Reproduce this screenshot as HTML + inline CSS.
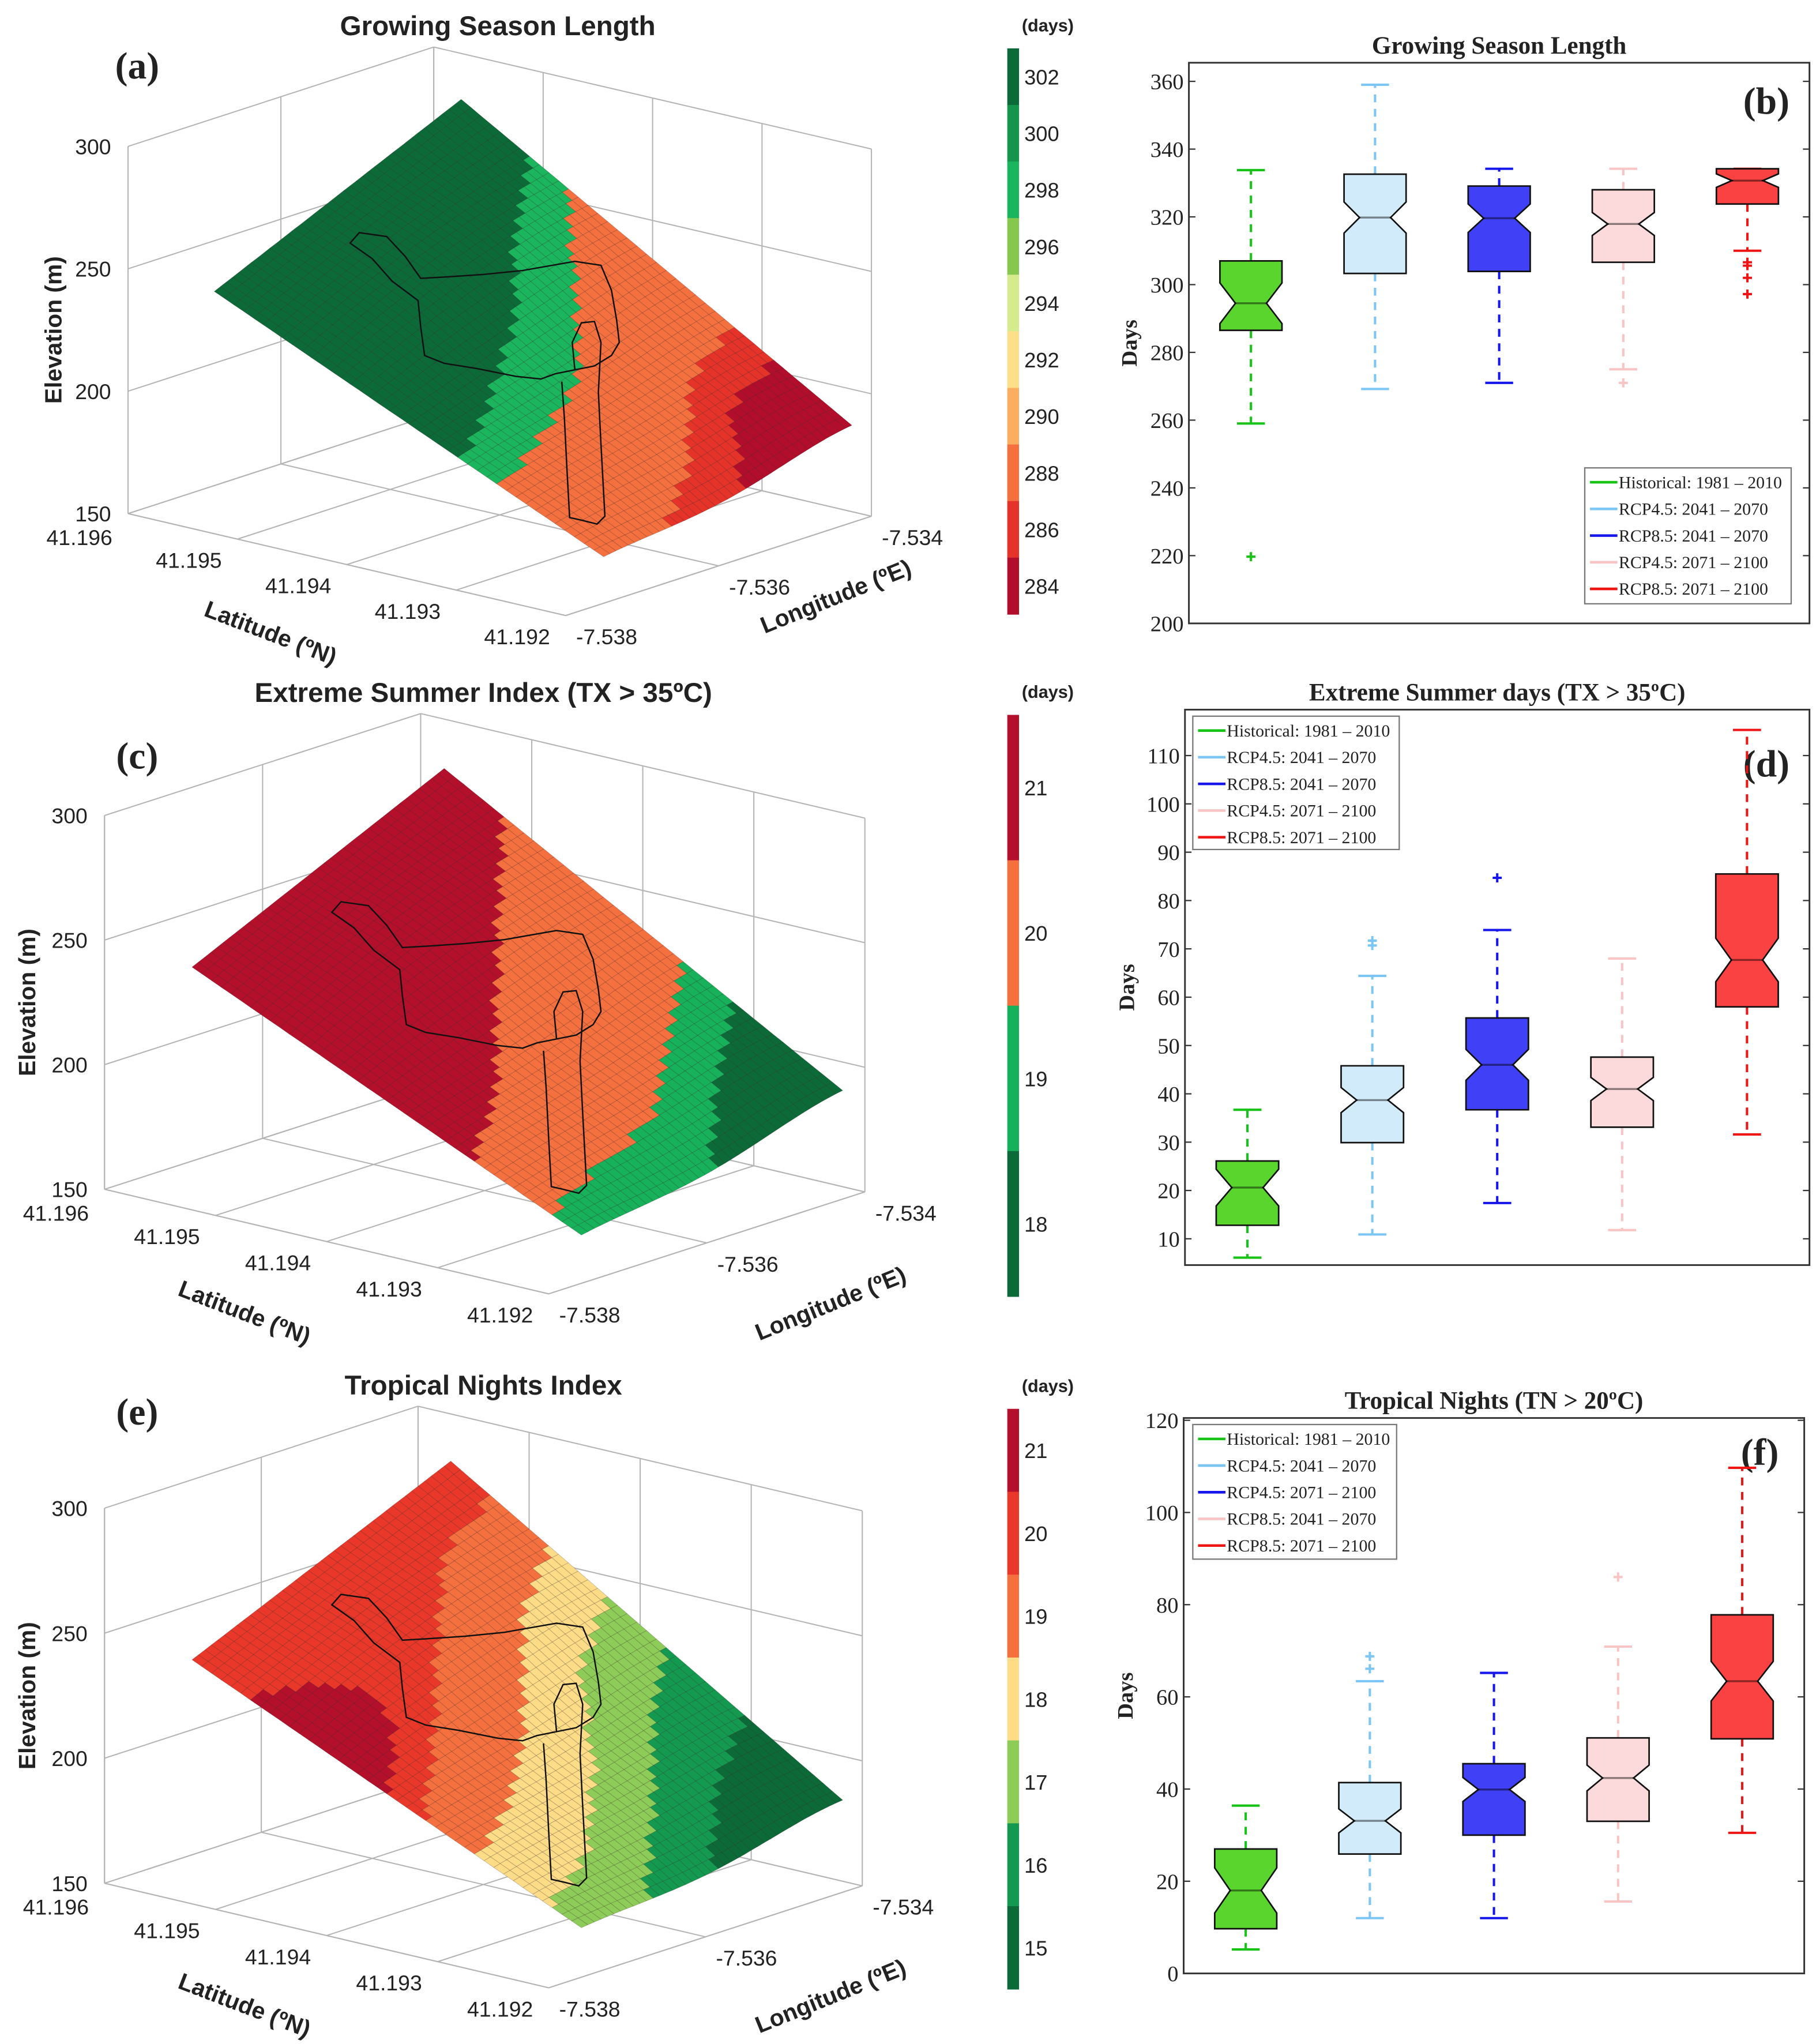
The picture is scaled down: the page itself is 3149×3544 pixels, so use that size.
<!DOCTYPE html>
<html><head><meta charset="utf-8"><style>
html,body{margin:0;padding:0;background:#fff;}
svg{display:block;}
</style></head><body>
<svg id="fig" xmlns="http://www.w3.org/2000/svg" width="3149" height="3544" viewBox="0 0 1390 1564" preserveAspectRatio="none">
<rect x="0" y="0" width="1390" height="1564" fill="#fff"/>
</svg>
<script>
// ---------- Box-plot data ----------
const legendB = ["Historical: 1981 – 2010","RCP4.5: 2041 – 2070","RCP8.5: 2041 – 2070","RCP4.5: 2071 – 2100","RCP8.5: 2071 – 2100"];
const hiB = [333.8,359,334.2,334.2,334.2];
const q3B = [307,332.6,329.1,328,334.2];
const medB = [294.5,319.8,319.6,317.9,330.7];
const q1B = [286.5,303.3,303.9,306.6,323.8];
const loB = [259,269.2,271,275,310];
const notchB = [6,4.6,4.2,3.4,2];
const outB = [[219.7],[],[],[271],[306.6,305.6,302,297.2]];
const ticksB = [200,220,240,260,280,300,320,340,360];

const legendD = ["Historical: 1981 – 2010","RCP4.5: 2041 – 2070","RCP8.5: 2041 – 2070","RCP4.5: 2071 – 2100","RCP8.5: 2071 – 2100"];
const hiD = [36.7,64.4,73.9,68,115.3];
const q3D = [26.1,45.8,55.7,47.6,85.5];
const medD = [20.6,38.7,46,41,67.7];
const q1D = [12.8,29.9,36.7,33.1,58];
const loD = [6.1,10.9,17.4,11.8,31.6];
const notchD = [3.8,2.6,3.2,2.4,4.5];
const outD = [[],[71.7,70.7],[84.7],[],[]];
const ticksD = [10,20,30,40,50,60,70,80,90,100,110];

const legendF = ["Historical: 1981 – 2010","RCP4.5: 2041 – 2070","RCP4.5: 2071 – 2100","RCP8.5: 2041 – 2070","RCP8.5: 2071 – 2100"];
const hiF = [36.4,63.4,65.2,70.9,109.7];
const q3F = [27,41.4,45.5,51.1,77.8];
const medF = [18,33.1,39.9,42.4,63.4];
const q1F = [9.7,25.9,30,33,50.9];
const loF = [5.2,12,12,15.6,30.5];
const notchF = [4.9,2.6,2.6,2.8,4.3];
const outF = [[],[68.8,66.1],[],[86],[]];
const ticksF = [0,20,40,60,80,100,120];

// ---------- Surface (3D) data: class thresholds along a, sampled at b = 0,.25,.5,.75,1 ----------
const cbLabelsA = [302,300,298,296,294,292,290,288,286,284];
const surfClassesA = [302,298,288,286,284];
const edgesA = [[0.64,0.55,0.45,0.3,0.17],[0.74,0.68,0.62,0.45,0.27],[1.1,1.0,0.9,0.75,0.7],[1.2,1.2,1.05,0.85,0.8]];
const cbLabelsC = [21,20,19,18];
const surfClassesC = [21,20,19,18];
const edgesC = [[0.72,0.62,0.45,0.3,0.15],[0.92,0.88,0.85,0.72,0.6],[1.2,1.15,1.0,0.85,0.72]];
const cbLabelsE = [21,20,19,18,17,16,15];
const surfClassesE = [20,19,18,17,16,15];
const edgesE = [[0.6,0.45,0.3,0.15,0.1],[0.74,0.65,0.52,0.35,0.25],[0.92,0.85,0.7,0.5,0.4],[1.05,1.0,0.85,0.68,0.55],[1.3,1.2,1.0,0.85,0.75]];
const patchE21 = [0.14,0.5,0.22];
const latTicks = ["41.196","41.195","41.194","41.193","41.192"];
const lonTicks = ["-7.538","-7.536","-7.534"];
const elevTicks = [150,200,250,300];

const NS='http://www.w3.org/2000/svg';
const svg=document.getElementById('fig');
function mk(tag,attrs,parent){const e=document.createElementNS(NS,tag);for(const k in attrs)e.setAttribute(k,attrs[k]);(parent||svg).appendChild(e);return e;}
function txt(str,x,y,size,anchor,weight,family,parent,rot){const t=mk('text',{x:x,y:y,'font-size':size,'text-anchor':anchor||'middle','font-weight':weight||'normal','font-family':family,fill:'#222'},parent);if(rot!==undefined)t.setAttribute('transform','rotate('+rot+' '+x+' '+y+')');t.textContent=str;return t;}
const SERIF='"Liberation Serif", serif';
const SANS='"Liberation Sans", sans-serif';

const boxFill=['#5ad52e','#d2ebfb','#4040f6','#fcdadb','#fb4242'];
const whiskCol=['#17c317','#7cc6f6','#1515ec','#f8c4c4','#f01515'];

function boxPanel(cfg){
  const g=mk('g',{});
  
  
  const {x0,x1,y0,y1,vmin,vmax}=cfg;
  const Y=v=>y1-(v-vmin)/(vmax-vmin)*(y1-y0);
  const unit=(x1-x0)/5;
  const X=i=>x0+(i+0.5)*unit;
  const frame=mk('rect',{x:x0,y:y0,width:x1-x0,height:y1-y0,fill:'none',stroke:'#333','stroke-width':1.3},g);
  
  
  cfg.ticks.forEach(t=>{
    const y=Y(t);
    mk('line',{x1:x0,y1:y,x2:x0+5,y2:y,stroke:'#333','stroke-width':1},g);
    mk('line',{x1:x1,y1:y,x2:x1-5,y2:y,stroke:'#333','stroke-width':1},g);
    const lb=txt(String(t),x0-4,y+6,17,'end','normal',SERIF,g);
    
    
  });
  const yl=txt('Days',cfg.yLabelX,(y0+y1)/2,17,'middle','bold',SERIF,g,-90);
  
  
  const tt=txt(cfg.title,(x0+x1)/2,y0-7,19,'middle','bold',SERIF,g);
  
  
  const pl=txt(cfg.letter,cfg.letterX,cfg.letterY,29,'middle','bold',SERIF,g);
  
  
  const hw=unit*0.25;
  for(let i=0;i<5;i++){
    const cx=X(i);
    const bg=mk('g',{},g);
    
    
    const c=whiskCol[i];
    const dash='6,5';
    mk('line',{x1:cx,y1:Y(cfg.q3[i]),x2:cx,y2:Y(cfg.hi[i]),stroke:c,'stroke-width':1.8,'stroke-dasharray':dash},bg);
    mk('line',{x1:cx,y1:Y(cfg.q1[i]),x2:cx,y2:Y(cfg.lo[i]),stroke:c,'stroke-width':1.8,'stroke-dasharray':dash},bg);
    const cw=hw*0.45;
    mk('line',{x1:cx-cw,y1:Y(cfg.hi[i]),x2:cx+cw,y2:Y(cfg.hi[i]),stroke:c,'stroke-width':1.8},bg);
    mk('line',{x1:cx-cw,y1:Y(cfg.lo[i]),x2:cx+cw,y2:Y(cfg.lo[i]),stroke:c,'stroke-width':1.8},bg);
    const m=cfg.med[i];
    const nh=Math.min(m+cfg.notch[i],cfg.q3[i]), nl=Math.max(m-cfg.notch[i],cfg.q1[i]);
    const inner=hw*0.5;
    const pts=[[cx-hw,Y(cfg.q3[i])],[cx+hw,Y(cfg.q3[i])],[cx+hw,Y(nh)],[cx+inner,Y(m)],[cx+hw,Y(nl)],[cx+hw,Y(cfg.q1[i])],[cx-hw,Y(cfg.q1[i])],[cx-hw,Y(nl)],[cx-inner,Y(m)],[cx-hw,Y(nh)]];
    mk('polygon',{points:pts.map(p=>p.join(',')).join(' '),fill:boxFill[i],stroke:'#111','stroke-width':1.2},bg);
    mk('line',{x1:cx-inner,y1:Y(m),x2:cx+inner,y2:Y(m),stroke:'rgba(0,0,0,0.45)','stroke-width':1.5},bg);
    cfg.out[i].forEach(v=>{
      const oy=Y(v);
      mk('path',{d:'M'+(cx-3.5)+','+oy+'h7M'+cx+','+(oy-3.5)+'v7',stroke:c,'stroke-width':1.8},bg);
    });
  }
  const L=cfg.legend;
  const lg=mk('g',{},g);
  
  
  mk('rect',{x:L.x,y:L.y,width:L.w,height:L.h,fill:'#fff',stroke:'#777','stroke-width':1},lg);
  cfg.labels.forEach((s,i)=>{
    const yy=L.y+11+i*20.4;
    const le=mk('g',{},lg);
    
    
    mk('line',{x1:L.x+4,y1:yy,x2:L.x+25,y2:yy,stroke:whiskCol[i],'stroke-width':2},le);
    txt(s,L.x+26,yy+4.5,13.2,'start','normal',SERIF,le);
  });
}

boxPanel({name:'boxplot-growing-season',x0:910,x1:1385,y0:48,y1:477,vmin:200,vmax:365.5,ticks:ticksB,hi:hiB,q3:q3B,med:medB,q1:q1B,lo:loB,notch:notchB,out:outB,labels:legendB,title:'Growing Season Length',letter:'(b)',letterX:1352,letterY:87,yLabelX:870,legend:{x:1213,y:358,w:158,h:104}});
boxPanel({name:'boxplot-extreme-summer',x0:907,x1:1385,y0:543,y1:968,vmin:4.56,vmax:119.5,ticks:ticksD,hi:hiD,q3:q3D,med:medD,q1:q1D,lo:loD,notch:notchD,out:outD,labels:legendD,title:'Extreme Summer days (TX > 35ºC)',letter:'(d)',letterX:1352,letterY:594,yLabelX:868,legend:{x:913,y:548,w:158,h:102}});
boxPanel({name:'boxplot-tropical-nights',x0:906,x1:1381,y0:1085,y1:1510,vmin:0,vmax:120.5,ticks:ticksF,hi:hiF,q3:q3F,med:medF,q1:q1F,lo:loF,notch:notchF,out:outF,labels:legendF,title:'Tropical Nights (TN > 20ºC)',letter:'(f)',letterX:1347,letterY:1121,yLabelX:867,legend:{x:913,y:1090,w:156,h:103}});

// ---------- 3D surface panels ----------
const cmap={302:'#0c6a38',300:'#14954c',298:'#1bb55d',296:'#86c84f',294:'#d6eb8e',292:'#fddf8a',290:'#fcae60',288:'#f5703f',286:'#e6332a',284:'#b30d2c',
 21:'#b40f2b',20:'#e9382a',19:'#f5703f',18:'#fddc88',17:'#8dcc58',16:'#139a50',15:'#0b6a37'};
const cmapC={21:'#b40f2b',20:'#f5703f',19:'#16b15a',18:'#0c6a38'};

function lerp(p,q,t){return [p[0]+(q[0]-p[0])*t,p[1]+(q[1]-p[1])*t];}
function surfPanel(cfg){
  const g=mk('g',{});
  
  
  const {L,F,R,dz}=cfg;
  const B=[L[0]+R[0]-F[0],L[1]+R[1]-F[1]];
  const up=(p,k)=>[p[0],p[1]-dz*k];
  const gl=mk('g',{stroke:'#b4b4b4','stroke-width':0.9,fill:'none'},g);
  
  
  const line=(p,q)=>mk('line',{x1:p[0],y1:p[1],x2:q[0],y2:q[1]},gl);
  for(let k=0;k<elevTicks.length;k++){const f=k/(elevTicks.length-1);line(up(L,f),up(B,f));line(up(B,f),up(R,f));}
  for(let t=0;t<=2;t++){const p=lerp(L,B,t/2);line(p,up(p,1));line(p,[p[0]+F[0]-L[0],p[1]+F[1]-L[1]]);}
  for(let s=0;s<=4;s++){const p=lerp(B,R,s/4);line(p,up(p,1));const q=lerp(L,F,s/4);line(q,[q[0]+R[0]-F[0],q[1]+R[1]-F[1]]);}
  line(L,F);line(F,R);line(L,up(L,1));
  // surface
  const [A,Bt,C,D]=cfg.corners;
  const P=(a,b)=>{const x=(1-a)*(1-b)*A[0]+(1-a)*b*Bt[0]+a*b*C[0]+a*(1-b)*D[0];const y=(1-a)*(1-b)*A[1]+(1-a)*b*Bt[1]+a*b*C[1]+a*(1-b)*D[1];
    const w=-14*Math.sin(Math.PI*a)*Math.sin(Math.PI*b)*(0.6+0.4*Math.sin(Math.PI*a*2.5))+8*a*Math.sin(Math.PI*b*1.6)*b;return [x,y+w];};
  const sg=mk('g',{stroke:'rgba(40,20,20,0.28)','stroke-width':0.35},g);
  
  
  const N=40;
  for(let i=0;i<N;i++){for(let j=0;j<N;j++){
    const a=(i+0.5)/N,b=(j+0.5)/N;
    const bi=b*4, k0=Math.min(3,Math.floor(bi)), fr=bi-k0;
    let cls=cfg.classes.length-1;
    for(let e=0;e<cfg.edges.length;e++){const th=cfg.edges[e][k0]*(1-fr)+cfg.edges[e][k0+1]*fr;if(a<th){cls=e;break;}}
    let val=cfg.classes[cls];
    if(cfg.patch){const mid=(cfg.patch[0]+cfg.patch[1])/2, half=(cfg.patch[1]-cfg.patch[0])/2;
      const bl=cfg.patch[2]*Math.max(0,1-Math.pow((a-mid)/half,2));
      if(a>cfg.patch[0]&&a<cfg.patch[1]&&b<bl) val=21;}
    const p1=P(i/N,j/N),p2=P(i/N,(j+1)/N),p3=P((i+1)/N,(j+1)/N),p4=P((i+1)/N,j/N);
    mk('polygon',{points:[p1,p2,p3,p4].map(p=>p[0].toFixed(1)+','+p[1].toFixed(1)).join(' '),fill:cfg.cmap[val]},sg);
  }}
  const ol=mk('path',{d:cfg.outline,fill:'none',stroke:'#111','stroke-width':1.1,transform:'translate('+cfg.odx+','+cfg.ody+')'},g);
  
  
  // labels
  elevTicks.forEach((v,k)=>{const f=k/(elevTicks.length-1);const t=txt(String(v),L[0]-13,L[1]-dz*f+6,16.5,'end','normal',SANS,g);
    
    });
  latTicks.forEach((s,k)=>{const p=lerp(L,F,k/4);const t=txt(s,p[0]-12,p[1]+(k===0?24:22),16.5,'end','normal',SANS,g);
    
    });
  lonTicks.forEach((s,k)=>{const p=lerp(F,R,k/2);const t=txt(s,p[0]+8,p[1]+22,16.5,'start','normal',SANS,g);
    
    });
  const la=txt('Latitude (ºN)',cfg.latLab[0],cfg.latLab[1],18,'middle','bold',SANS,g,21);
  
  
  const lo=txt('Longitude (ºE)',cfg.lonLab[0],cfg.lonLab[1],18,'middle','bold',SANS,g,-22);
  
  
  const el=txt('Elevation (m)',cfg.elevX,L[1]-dz/2,18,'middle','bold',SANS,g,-90);
  
  
  const ti=txt(cfg.title,cfg.titleX,cfg.titleY,21,'middle','bold',SANS,g);
  
  
  const le=txt(cfg.letter,105,cfg.letterY,29,'middle','bold',SERIF,g);
  
  
  // colorbar
  const cb=mk('g',{},g);
  
  
  const n=cfg.cbLabels.length, h=(cfg.cb[1]-cfg.cb[0])/n;
  cfg.cbLabels.forEach((v,k)=>{
    mk('rect',{x:771,y:cfg.cb[0]+k*h,width:9,height:h+0.3,fill:cfg.cmap[v]},cb);
    txt(String(v),784,cfg.cb[0]+k*h+h/2+6,16,'start','normal',SANS,cb);
  });
  txt('(days)',802,cfg.cb[0]-13,13.5,'middle','bold',SANS,cb);
}
const outlinePath='M268,186 L275,178 L296,181 L310,196 L322,213 L340,212 L370,210 L400,207 L440,200 L460,203 L468,222 L472,245 L474,262 L468,272 L455,280 L440,283 L425,286 L414,290 L395,288 L365,282 L340,278 L325,272 L322,250 L320,230 L300,215 L285,198 Z M440,283 L438,262 L445,247 L455,246 L460,262 L458,300 L460,340 L463,395 L457,401 L445,398 L436,396 L434,360 L432,320 L430,292';

surfPanel({name:'surface-growing-season',L:[98,393],F:[433,471],R:[667,395],dz:281,corners:[[164,223],[353,76],[652,333],[462,426]],
  classes:surfClassesA,edges:edgesA,cmap:cmap,cbLabels:cbLabelsA,cb:[37,470],outline:outlinePath,odx:0,ody:0,
  latLab:[205,490],lonLab:[642,462],elevX:47,title:'Growing Season Length',titleX:381,titleY:27,letter:'(a)',letterY:60});
surfPanel({name:'surface-extreme-summer',L:[80,910],F:[420,990],R:[662,912],dz:286,corners:[[147,740],[340,588],[645,842],[445,945]],
  classes:surfClassesC,edges:edgesC,cmap:cmapC,cbLabels:cbLabelsC,cb:[547,992],outline:outlinePath,odx:-14,ody:512,
  latLab:[185,1010],lonLab:[638,1003],elevX:27,title:'Extreme Summer Index (TX > 35ºC)',titleX:370,titleY:537,letter:'(c)',letterY:588});
surfPanel({name:'surface-tropical-nights',L:[80,1441],F:[420,1521],R:[660,1443],dz:287,corners:[[147,1270],[345,1118],[645,1385],[445,1475]],
  classes:surfClassesE,edges:edgesE,patch:patchE21,cmap:cmap,cbLabels:cbLabelsE,cb:[1078,1522],outline:outlinePath,odx:-14,ody:1042,
  latLab:[185,1540],lonLab:[638,1533],elevX:27,title:'Tropical Nights Index',titleX:370,titleY:1067,letter:'(e)',letterY:1090});
</script>
</body></html>
